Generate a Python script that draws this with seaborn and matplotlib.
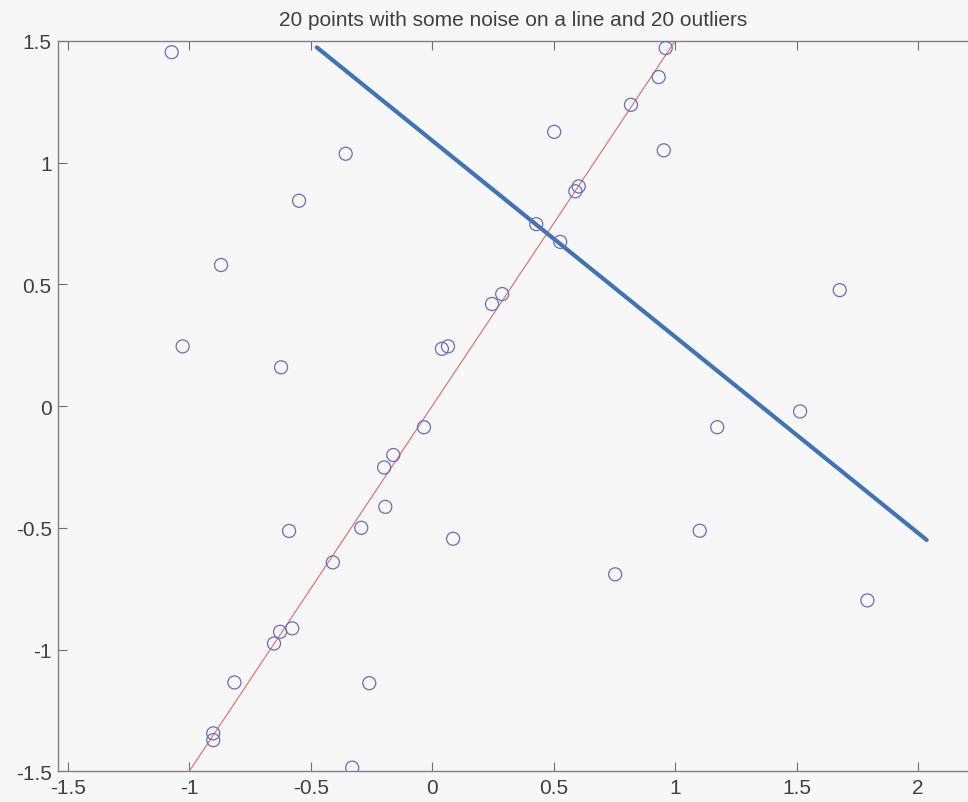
import matplotlib
matplotlib.use("Agg")
import matplotlib.pyplot as plt
import seaborn as sns

# scattered points (line points + outliers)
pts_x = [-1.072, 0.961, 0.932, 0.818, 0.502, 0.953, -0.356, 0.603, 0.589, -0.548,
         0.428, 0.527, -0.869, 1.677, 0.288, 0.246, -1.027, 0.065, 0.040, -0.622,
         1.514, -0.034, 1.173, -0.160, -0.198, -0.193, -0.292, -0.589, 0.086, 1.101,
         -0.409, 0.753, -0.576, -0.626, -0.651, 1.791, -0.814, -0.259, -0.901, -0.901,
         -0.329]
pts_y = [1.453, 1.470, 1.351, 1.237, 1.126, 1.050, 1.036, 0.902, 0.882, 0.843,
         0.747, 0.674, 0.579, 0.476, 0.460, 0.419, 0.245, 0.245, 0.235, 0.159,
         -0.022, -0.087, -0.087, -0.201, -0.252, -0.414, -0.500, -0.513, -0.545, -0.512,
         -0.642, -0.691, -0.913, -0.927, -0.975, -0.798, -1.135, -1.138, -1.344, -1.372,
         -1.485]

# true line (red) and fitted line (blue)
true_x = [-1.0, 1.0]
true_y = [-1.5, 1.5]
fit_x = [-0.475, 2.035]
fit_y = [1.473, -0.550]

xticks = [-1.5, -1, -0.5, 0, 0.5, 1, 1.5, 2]
yticks = [-1.5, -1, -0.5, 0, 0.5, 1, 1.5]

sns.set_theme(style="ticks")
plt.rcParams['font.family'] = ['Liberation Sans', 'DejaVu Sans']
bg = '#f7f7f7'
txt = '#404040'

fig = plt.figure(figsize=(9.68, 8.03), dpi=100, facecolor=bg)
ax = fig.add_axes([0.0599, 0.0382, 0.9401, 0.9098], facecolor=bg)

sns.lineplot(x=true_x, y=true_y, ax=ax, color='#e06a6a', linewidth=0.8)
sns.lineplot(x=fit_x, y=fit_y, ax=ax, color='#3f74b8', linewidth=3.0)
sns.scatterplot(x=pts_x, y=pts_y, ax=ax, marker='o', s=88,
                facecolors='none', edgecolors='#6a6acc', linewidth=0.9, zorder=3)

ax.set_xlim(-1.540, 2.205)
ax.set_ylim(-1.5, 1.5)
ax.set_xticks(xticks)
ax.set_xticklabels([f'{v:g}' for v in xticks])
ax.set_yticks(yticks)
ax.set_yticklabels([f'{v:g}' for v in yticks])

for side in ['left', 'top', 'bottom']:
    ax.spines[side].set_color('#808080')
    ax.spines[side].set_linewidth(1.0)
ax.spines['right'].set_visible(False)

ax.tick_params(axis='both', direction='in', length=6.5, width=0.8, color='#707070',
               labelsize=15, labelcolor=txt)
ax.tick_params(axis='x', top=True, pad=5)
ax.tick_params(axis='y', right=False, pad=4.5)

ax.set_title('20 points with some noise on a line and 20 outliers',
             fontsize=15, color=txt, pad=11)

fig.savefig('out.png', dpi=100, facecolor=bg)
